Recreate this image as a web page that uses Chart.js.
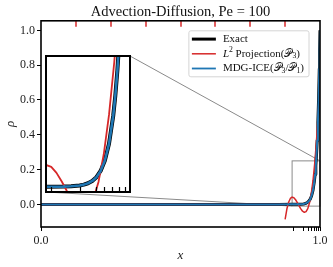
<!DOCTYPE html>
<html><head><meta charset="utf-8">
<script src="https://cdn.jsdelivr.net/npm/chart.js@4"></script>
<style>
html,body{margin:0;padding:0;background:#fff;}
#wrap{position:relative;width:333px;height:267px;}
#main{position:absolute;left:0;top:0;width:333px;height:267px;}
#inset{position:absolute;left:40px;top:50px;width:96px;height:148px;}
</style></head><body>
<div id="wrap"><canvas id="main" width="333" height="267"></canvas><canvas id="inset" width="96" height="148"></canvas></div>
<script>
const titleText = 'Advection-Diffusion, Pe = 100';
const seriesLabels = ['Exact', 'L² Projection(𝒫₃)', 'MDG-ICE(𝒫₃/𝒫₁)'];
const xAxisTitle = 'x';
const yAxisTitle = 'ρ';

const xExact = [0, 0.5, 0.8, 0.85, 0.9, 0.92, 0.93, 0.94, 0.945, 0.95, 0.955, 0.96, 0.965, 0.97, 0.975, 0.98, 0.9825, 0.985, 0.9875, 0.99, 0.9925, 0.995, 0.9975, 0.99875, 1.0];
const yExact = [0, 0, 0, 0, 0.00005, 0.0003, 0.0009, 0.0025, 0.0041, 0.0067, 0.0111, 0.0183, 0.0302, 0.0498, 0.0821, 0.1353, 0.1738, 0.2231, 0.2865, 0.3679, 0.4724, 0.6065, 0.7788, 0.8825, 1.0];

const xL2 = [0, 0.875, 0.875, 0.875, 0.88125, 0.8875, 0.89375, 0.9, 0.90625, 0.9125, 0.91875, 0.925, 0.93125, 0.9375, 0.94375, 0.95, 0.95625, 0.9625, 0.96875, 0.975, 0.98125, 0.9875, 0.99375, 1.0];
const yL2 = [0, 0, null, -0.0859, -0.0267, 0.0123, 0.0341, 0.0417, 0.0382, 0.0266, 0.0101, -0.0085, -0.0260, -0.0394, -0.0456, -0.0416, -0.0243, 0.0092, 0.0621, 0.1374, 0.2381, 0.3673, 0.5281, 0.7233];

const xMdg = [0, 0.5, 0.8, 0.85, 0.9, 0.92, 0.93, 0.94, 0.945, 0.95, 0.955, 0.96, 0.965, 0.97, 0.975, 0.98, 0.9825, 0.985, 0.9875, 0.99, 0.9925, 0.995, 0.9975, 0.99875, 1.0];
const yMdg = [0, 0, 0, 0, 0.00005, 0.0003, 0.0009, 0.0025, 0.0041, 0.0067, 0.0111, 0.0183, 0.0302, 0.0498, 0.0821, 0.1353, 0.1738, 0.2231, 0.2865, 0.3679, 0.4724, 0.6065, 0.7788, 0.8825, 1.0];

const l2Mesh = [0.125, 0.25, 0.375, 0.5, 0.625, 0.75, 0.875];
const mdgMesh = [0.906, 0.940, 0.959, 0.969, 0.979, 0.987, 0.994];
const xTickValues = [0, 0.906, 0.940, 0.959, 0.969, 0.979, 0.987, 0.994, 1];
const xTickLabels = {0: '0.0', 1: '1.0'};
const yTickValues = [0, 0.2, 0.4, 0.6, 0.8, 1.0];
const yTickLabels = ['0.0', '0.2', '0.4', '0.6', '0.8', '1.0'];
const mainX = [0, 1], mainY = [-0.13, 1.055];
const insetX = [0.9, 1.0], insetY = [-0.01, 0.25];

const F = 'Liberation Serif';
const C_EXACT = '#000000', C_L2 = '#d62728', C_MDG = '#1f77b4';

function pts(xs, ys) { return xs.map((x, i) => ({x: x, y: ys[i]})); }
function datasets(w) {
  return [
    {label: seriesLabels[0], data: pts(xExact, yExact), borderColor: C_EXACT, borderWidth: w[0], order: 3},
    {label: seriesLabels[1], data: pts(xL2, yL2), borderColor: C_L2, borderWidth: w[1], order: 2},
    {label: seriesLabels[2], data: pts(xMdg, yMdg), borderColor: C_MDG, borderWidth: w[2], order: 1}
  ].map(d => Object.assign(d, {pointRadius: 0, fill: false, tension: 0, spanGaps: false, borderJoinStyle: 'round', borderCapStyle: 'butt'}));
}

// legend runs
const legendRuns = [
  [{t: 'Exact'}],
  [{t: 'L', it: true}, {t: '2', sup: true}, {t: ' Projection('}, {t: '𝒫'}, {t: '3', sub: true}, {t: ')'}],
  [{t: 'MDG-ICE('}, {t: '𝒫'}, {t: '3', sub: true}, {t: '/'}, {t: '𝒫'}, {t: '1', sub: true}, {t: ')'}]
];
const LFS = 11;
function runFont(r) {
  const s = (r.sup || r.sub) ? LFS * 0.7 : LFS;
  return (r.it ? 'italic ' : '') + s + 'px "' + F + '"';
}
function runsWidth(ctx, runs) {
  let w = 0; runs.forEach(r => { ctx.font = runFont(r); w += ctx.measureText(r.t).width; }); return w;
}
function drawRuns(ctx, x, y, runs) {
  ctx.textBaseline = 'middle'; ctx.textAlign = 'left'; ctx.fillStyle = '#111';
  runs.forEach(r => {
    ctx.font = runFont(r);
    const dy = r.sup ? -3.5 : (r.sub ? 2.5 : 0);
    ctx.fillText(r.t, x, y + dy);
    x += ctx.measureText(r.t).width;
  });
}

const insetPlugin = {
  id: 'insetDeco',
  beforeDraw(chart) {
    const a = chart.chartArea, ctx = chart.ctx;
    ctx.save(); ctx.fillStyle = '#fff'; ctx.fillRect(a.left, a.top, a.right - a.left, a.bottom - a.top); ctx.restore();
  },
  afterDraw(chart) {
    const a = chart.chartArea, ctx = chart.ctx, xs = chart.scales.x;
    ctx.save();
    ctx.strokeStyle = '#000'; ctx.lineWidth = 1.2;
    mdgMesh.forEach(v => {
      const px = Math.round(xs.getPixelForValue(v)) + 0.5;
      ctx.beginPath(); ctx.moveTo(px, a.bottom); ctx.lineTo(px, a.bottom - 5); ctx.stroke();
    });
    ctx.lineWidth = 2; ctx.strokeRect(a.left, a.top, a.right - a.left, a.bottom - a.top);
    ctx.restore();
  }
};

const insetCanvas = document.getElementById('inset');
const insetChart = new Chart(insetCanvas, {
  type: 'line',
  data: {datasets: datasets([4, 1.8, 2.6])},
  options: {
    responsive: false, animation: false, devicePixelRatio: 1,
    layout: {padding: 6},
    plugins: {legend: {display: false}, title: {display: false}, tooltip: {enabled: false}},
    scales: {
      x: {type: 'linear', display: false, min: insetX[0], max: insetX[1]},
      y: {type: 'linear', display: false, min: insetY[0], max: insetY[1]}
    }
  },
  plugins: [insetPlugin]
});

const mainPlugin = {
  id: 'mainDeco',
  beforeDatasetsDraw(chart) {
    const ctx = chart.ctx, xs = chart.scales.x, ys = chart.scales.y;
    const rl = xs.getPixelForValue(insetX[0]), rr = xs.getPixelForValue(insetX[1]);
    const rt = ys.getPixelForValue(insetY[1]), rb = ys.getPixelForValue(insetY[0]);
    const ia = insetChart.chartArea;
    const il = insetCanvas.offsetLeft + ia.left, ir = insetCanvas.offsetLeft + ia.right;
    const it = insetCanvas.offsetTop + ia.top, ib = insetCanvas.offsetTop + ia.bottom;
    ctx.save();
    ctx.strokeStyle = '#8a8a8a'; ctx.lineWidth = 1;
    ctx.strokeRect(rl, rt, rr - rl, rb - rt);
    ctx.beginPath(); ctx.moveTo(ir, it); ctx.lineTo(rr, rt); ctx.stroke();
    ctx.beginPath(); ctx.moveTo(il, ib); ctx.lineTo(rl, rb); ctx.stroke();
    ctx.restore();
  },
  afterDatasetsDraw(chart) {
    const ctx = chart.ctx, a = chart.chartArea, xs = chart.scales.x;
    ctx.save();
    // red element ticks on top spine
    ctx.strokeStyle = C_L2; ctx.lineWidth = 1.5;
    l2Mesh.forEach(v => {
      const px = Math.round(xs.getPixelForValue(v));
      ctx.beginPath(); ctx.moveTo(px, a.top); ctx.lineTo(px, a.top + 6); ctx.stroke();
    });
    // frame
    ctx.strokeStyle = '#000'; ctx.lineWidth = 1.6;
    ctx.strokeRect(a.left, a.top, a.right - a.left, a.bottom - a.top);
    // legend
    const maxW = Math.max(...legendRuns.map(r => runsWidth(ctx, r)));
    const boxW = 34 + maxW + 5, boxH = 46;
    const bx = a.right - 11 - boxW, by = a.top + 10;
    ctx.globalAlpha = 0.85; ctx.fillStyle = '#fff';
    ctx.beginPath(); ctx.roundRect(bx, by, boxW, boxH, 2); ctx.fill();
    ctx.globalAlpha = 1; ctx.strokeStyle = '#d4d4d4'; ctx.lineWidth = 1; ctx.stroke();
    const cols = [C_EXACT, C_L2, C_MDG], lw = [3, 1.5, 1.8];
    legendRuns.forEach((runs, i) => {
      const yy = by + 8.3 + i * 14.7;
      ctx.strokeStyle = cols[i]; ctx.lineWidth = lw[i];
      ctx.beginPath(); ctx.moveTo(bx + 3, yy); ctx.lineTo(bx + 27, yy); ctx.stroke();
      drawRuns(ctx, bx + 34, yy, runs);
    });
    ctx.restore();
  }
};

const mainChart = new Chart(document.getElementById('main'), {
  type: 'line',
  data: {datasets: datasets([3, 1.5, 2])},
  options: {
    responsive: false, animation: false, devicePixelRatio: 1,
    layout: {padding: {left: 0, right: 13, top: 0, bottom: 0}},
    plugins: {legend: {display: false}, tooltip: {enabled: false}, title: {display: false}},
    scales: {
      x: {
        type: 'linear', min: mainX[0], max: mainX[1],
        border: {display: false},
        grid: {drawOnChartArea: false, drawTicks: true, tickLength: 4, color: '#000', tickWidth: 1},
        afterBuildTicks: s => { s.ticks = xTickValues.map(v => ({value: v})); },
        afterFit: s => { s.height = 40; },
        ticks: {autoSkip: false, maxRotation: 0, minRotation: 0, padding: 3, color: '#222', font: {family: F, size: 12},
          callback: v => (xTickLabels[v] !== undefined ? xTickLabels[v] : '')},
        title: {display: true, text: xAxisTitle, color: '#222', font: {family: F, size: 13, style: 'italic'}, padding: {top: 0, bottom: 4}}
      },
      xTop: {
        type: 'linear', position: 'top', min: mainX[0], max: mainX[1],
        border: {display: false}, grid: {display: false}, ticks: {display: false},
        afterFit: s => { s.height = 20.8; },
        title: {display: true, text: titleText, color: '#111', font: {family: F, size: 14.5, weight: 'normal'}, padding: {top: 3.3, bottom: 0}}
      },
      y: {
        type: 'linear', min: mainY[0], max: mainY[1],
        border: {display: false},
        grid: {drawOnChartArea: false, drawTicks: true, tickLength: 4, color: '#000', tickWidth: 1},
        afterBuildTicks: s => { s.ticks = yTickValues.map(v => ({value: v})); },
        afterFit: s => { s.width = 41; },
        ticks: {padding: 2, color: '#222', font: {family: F, size: 12},
          callback: (v, i) => yTickLabels[i]},
        title: {display: true, text: yAxisTitle, color: '#222', font: {family: F, size: 13, style: 'italic'}, padding: {top: 3, bottom: 0}}
      }
    }
  },
  plugins: [mainPlugin]
});
</script>
</body></html>
